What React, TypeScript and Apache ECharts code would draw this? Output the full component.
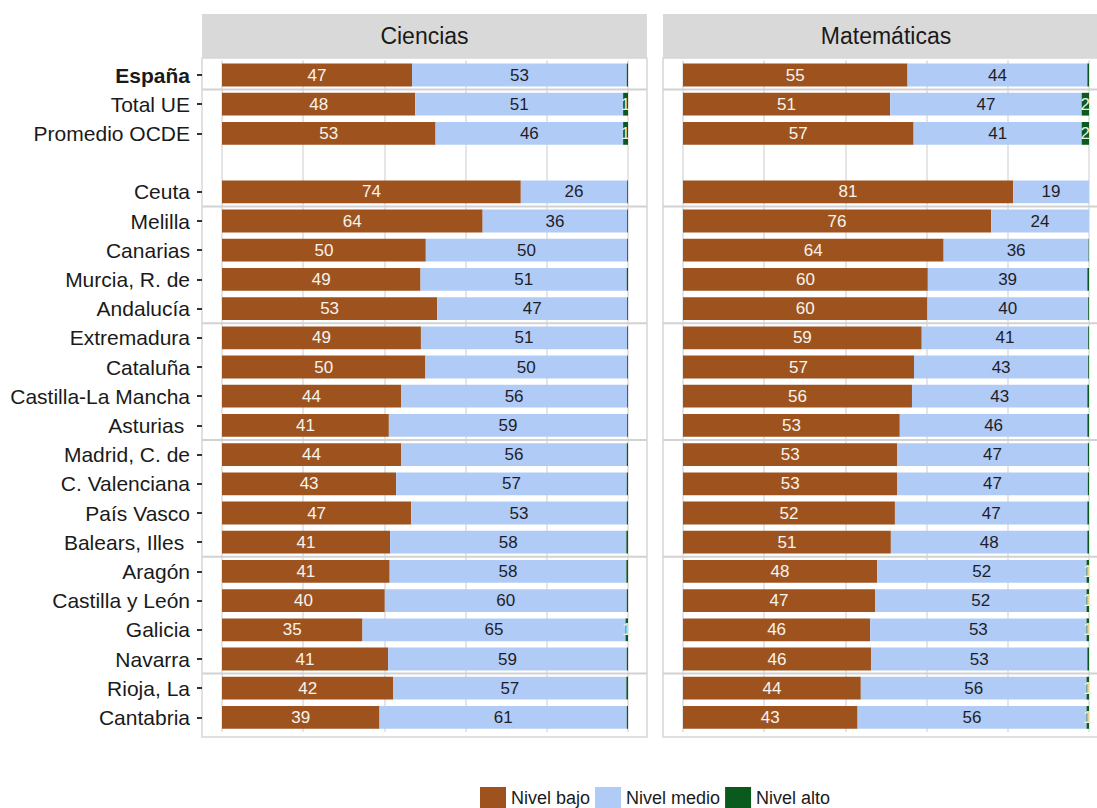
import React, { useEffect, useRef } from "react";
import * as echarts from "echarts";

const categories = [
  "España", "Total UE", "Promedio OCDE", "",
  "Ceuta", "Melilla", "Canarias", "Murcia, R. de", "Andalucía",
  "Extremadura", "Cataluña", "Castilla-La Mancha", "Asturias ",
  "Madrid, C. de", "C. Valenciana", "País Vasco", "Balears, Illes ",
  "Aragón", "Castilla y León", "Galicia", "Navarra",
  "Rioja, La", "Cantabria",
];

const cienciasBajo = [46.8, 47.6, 52.6, null, 73.6, 64.2, 50.2, 48.9, 53.0, 49.0, 50.1, 44.1, 41.1, 44.1, 42.9, 46.6, 41.4, 41.3, 40.1, 34.6, 40.9, 42.2, 38.8];
const cienciasMedio = [52.9, 51.2, 46.2, null, 26.2, 35.6, 49.6, 50.8, 46.8, 50.8, 49.7, 55.7, 58.7, 55.6, 56.8, 53.1, 58.2, 58.3, 59.6, 64.8, 58.8, 57.4, 60.9];
const cienciasAlto = [0.3, 1.2, 1.2, null, 0.2, 0.2, 0.2, 0.3, 0.2, 0.2, 0.2, 0.2, 0.2, 0.3, 0.3, 0.3, 0.4, 0.4, 0.3, 0.6, 0.3, 0.4, 0.3];

const matesBajo = [55.3, 51.0, 56.8, null, 81.3, 75.9, 64.2, 60.3, 60.2, 58.8, 56.9, 56.4, 53.4, 52.8, 52.8, 52.2, 51.2, 47.8, 47.3, 46.1, 46.3, 43.8, 43.0];
const matesMedio = [44.3, 47.2, 41.4, null, 18.7, 24.1, 35.7, 39.3, 39.6, 41.0, 42.9, 43.2, 46.2, 46.9, 46.9, 47.4, 48.4, 51.6, 52.1, 53.3, 53.3, 55.6, 56.4];
const matesAlto = [0.4, 1.8, 1.8, null, 0, 0, 0.1, 0.4, 0.2, 0.2, 0.2, 0.4, 0.4, 0.3, 0.3, 0.4, 0.4, 0.6, 0.6, 0.6, 0.4, 0.6, 0.6];

const panelTitles = ["Ciencias", "Matemáticas"];
const legendNames = ["Nivel bajo", "Nivel medio", "Nivel alto"];
const xTicks = { min: 0, max: 100, interval: 20 };
// separators drawn after these category indices
const separatorAfter = [0, 4, 8, 12, 16, 20];

const COLORS = ["#9E531F", "#B1CBF7", "#0B5A1D"];
const FONT = "'Liberation Sans', Arial, sans-serif";

const PANELS = [
  { left: 202, right: 647, gridLeft: 222, gridWidth: 406 },
  { left: 663, right: 1109, gridLeft: 683, gridWidth: 406 },
];
const STRIP_TOP = 14;
const PANEL_TOP = 58;
const PANEL_BOTTOM = 737;
const GRID_TOP = 60.4;
const GRID_HEIGHT = 671.6;

function makeSeries(name: string, values: (number | null)[], idx: number, colorIdx: number) {
  const labelColor = colorIdx === 0 ? "#F7F3EE" : colorIdx === 1 ? "#1E1E28" : "#E8F0E8";
  return {
    name,
    type: "bar",
    stack: "s" + idx,
    xAxisIndex: idx,
    yAxisIndex: idx,
    barCategoryGap: "22%",
    itemStyle: { color: COLORS[colorIdx] },
    label: {
      show: true,
      position: "inside",
      fontSize: 17,
      fontFamily: FONT,
      color: labelColor,
      formatter: (p: any) => String(Math.round(p.value)),
    },
    data: values.map((v) => {
      if (v === null) return null;
      if (colorIdx === 2 && v < 0.5) return { value: v, label: { show: false } };
      return v;
    }),
  };
}

function buildGraphics(sepYs: number[]) {
  const els: any[] = [];
  PANELS.forEach((p, i) => {
    els.push({
      id: "strip" + i, type: "rect", z: 0,
      shape: { x: p.left, y: STRIP_TOP, width: p.right - p.left, height: PANEL_TOP - STRIP_TOP },
      style: { fill: "#D9D9D9" },
    });
    els.push({
      id: "stripText" + i, type: "text", z: 1,
      x: (p.left + p.right) / 2, y: (STRIP_TOP + PANEL_TOP) / 2,
      style: { text: panelTitles[i], fontSize: 23, fontFamily: FONT, fill: "#1A1A1A", align: "center", verticalAlign: "middle" },
    });
    els.push({
      id: "panel" + i, type: "rect", z: 0,
      shape: { x: p.left, y: PANEL_TOP, width: p.right - p.left, height: PANEL_BOTTOM - PANEL_TOP },
      style: { fill: "none", stroke: "#D6D6D6", lineWidth: 1.5 },
    });
    sepYs.forEach((y, k) => {
      els.push({
        id: "sep" + i + "_" + k, type: "line", z: 1,
        shape: { x1: p.left, y1: y, x2: p.right, y2: y },
        style: { stroke: "#D2D2D2", lineWidth: 2 },
      });
    });
  });
  return els;
}

export default function App() {
  const ref = useRef<HTMLDivElement>(null);
  useEffect(() => {
    document.body.style.margin = "0";
    const chart = echarts.init(ref.current!, null, { renderer: "svg" });
    const grids = PANELS.map((p) => ({ left: p.gridLeft, width: p.gridWidth, top: GRID_TOP, height: GRID_HEIGHT }));
    const xAxes = PANELS.map((_, i) => ({
      type: "value", gridIndex: i, min: xTicks.min, max: xTicks.max, interval: xTicks.interval,
      axisLine: { show: false }, axisTick: { show: false }, axisLabel: { show: false },
      splitLine: { show: true, lineStyle: { color: "#DCDCDC", width: 1.5 } },
    }));
    const yAxes = PANELS.map((_, i) => ({
      type: "category", gridIndex: i, data: categories, inverse: true,
      offset: 20,
      axisLine: { show: false, onZero: false },
      axisTick: {
        show: i === 0, alignWithLabel: true, length: 5,
        interval: (_idx: number, v: string) => v !== "",
        lineStyle: { color: "#333333", width: 2 },
      },
      axisLabel: {
        show: i === 0, fontSize: 21, fontFamily: FONT, color: "#1A1A1A", margin: 12, interval: 0,
        formatter: (v: string) => (v === "España" ? "{b|España}" : v),
        rich: { b: { fontWeight: "bold", fontSize: 21, fontFamily: FONT, color: "#1A1A1A" } },
      },
      splitLine: { show: false },
    }));
    const series = [
      makeSeries(legendNames[0], cienciasBajo, 0, 0),
      makeSeries(legendNames[1], cienciasMedio, 0, 1),
      makeSeries(legendNames[2], cienciasAlto, 0, 2),
      makeSeries(legendNames[0], matesBajo, 1, 0),
      makeSeries(legendNames[1], matesMedio, 1, 1),
      makeSeries(legendNames[2], matesAlto, 1, 2),
    ];
    chart.setOption({
      animation: false,
      backgroundColor: "#FFFFFF",
      textStyle: { fontFamily: FONT },
      grid: grids,
      xAxis: xAxes,
      yAxis: yAxes,
      legend: {
        data: legendNames, left: 480, top: 787, icon: "rect", padding: 0,
        itemWidth: 26, itemHeight: 21, itemGap: 5, selectedMode: false,
        textStyle: { fontSize: 18, fontFamily: FONT, color: "#1A1A1A" },
      },
      graphic: buildGraphics([]),
      series,
    });
    const sepYs = separatorAfter.map((i) => {
      const a = chart.convertToPixel({ yAxisIndex: 0 } as any, categories[i]) as number;
      const b = chart.convertToPixel({ yAxisIndex: 0 } as any, categories[i + 1]) as number;
      return (a + b) / 2;
    });
    chart.setOption({ graphic: buildGraphics(sepYs) });
    return () => chart.dispose();
  }, []);
  return <div ref={ref} style={{ width: 1097, height: 808 }} />;
}
